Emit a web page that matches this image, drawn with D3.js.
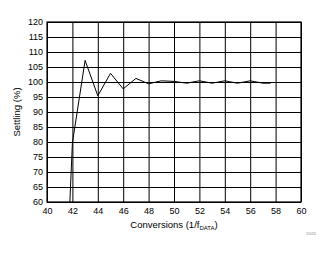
<!DOCTYPE html>
<html>
<head>
<meta charset="utf-8">
<script src="https://cdn.jsdelivr.net/npm/d3@7"></script>
<style>
  body { margin: 0; background: #fff; }
  text { font-family: Arial, "Liberation Sans", sans-serif; }
</style>
</head>
<body>
<svg width="331" height="254"></svg>
<script>
// conversions (1/fDATA) and settling (%)
const conversions = [41.8, 42, 43, 44, 45, 46, 47, 48, 49, 50, 51, 52, 53, 54, 55, 56, 57, 57.6]
const settling = [60, 79.7, 107.2, 95.4, 102.9, 97.7, 101.2, 99.4, 100.4, 100.2, 99.6, 100.4, 99.6, 100.4, 99.6, 100.4, 99.6, 99.6]
const xTicks = [40, 42, 44, 46, 48, 50, 52, 54, 56, 58, 60]
const yTicks = [60, 65, 70, 75, 80, 85, 90, 95, 100, 105, 110, 115, 120]

const svg = d3.select('svg')
const margin = { top: 22, left: 47, right: 30, bottom: 52 }
const width = +svg.attr('width') - margin.left - margin.right
const height = +svg.attr('height') - margin.top - margin.bottom

const x = d3.scaleLinear().domain([40, 60]).range([0, width])
const y = d3.scaleLinear().domain([60, 120]).range([height, 0])

const g = svg.append('g')
  .attr('transform', `translate(${margin.left},${margin.top})`)

// grid
const xAxis = g.append('g')
  .attr('transform', `translate(0,${height})`)
  .call(d3.axisBottom(x).tickValues(xTicks).tickSize(-height).tickPadding(6))
const yAxis = g.append('g')
  .call(d3.axisLeft(y).tickValues(yTicks).tickSize(-width).tickPadding(4))

;[xAxis, yAxis].forEach(a => {
  a.select('.domain').remove()
  a.selectAll('line').attr('stroke', '#000').attr('stroke-width', 1)
  a.selectAll('text').attr('fill', '#000').style('font-size', '9px')
})

// frame
g.append('rect')
  .attr('width', width)
  .attr('height', height)
  .attr('fill', 'none')
  .attr('stroke', '#000')
  .attr('stroke-width', 1.2)

g.append('clipPath').attr('id', 'clip')
  .append('rect').attr('width', width).attr('height', height)

const line = d3.line()
  .x((d, i) => x(conversions[i]))
  .y(d => y(d))

g.append('path')
  .datum(settling)
  .attr('clip-path', 'url(#clip)')
  .attr('fill', 'none')
  .attr('stroke', '#000')
  .attr('stroke-width', 1)
  .attr('d', line)

// axis titles
const xt = svg.append('text')
  .attr('x', margin.left + width / 2)
  .attr('y', 228)
  .attr('text-anchor', 'middle')
  .style('font-size', '9.5px')
  .attr('fill', '#000')
xt.append('tspan').text('Conversions (1/f')
xt.append('tspan').text('DATA').style('font-size', '6px').attr('dy', 2)
xt.append('tspan').text(')').attr('dy', -2)

svg.append('text')
  .attr('transform', `translate(20,${margin.top + height / 2}) rotate(-90)`)
  .attr('text-anchor', 'middle')
  .style('font-size', '9.5px')
  .attr('fill', '#000')
  .text('Settling (%)')

svg.append('text')
  .attr('x', 316)
  .attr('y', 235)
  .attr('text-anchor', 'end')
  .style('font-size', '4px')
  .attr('fill', '#888')
  .text('D020')
</script>
</body>
</html>
